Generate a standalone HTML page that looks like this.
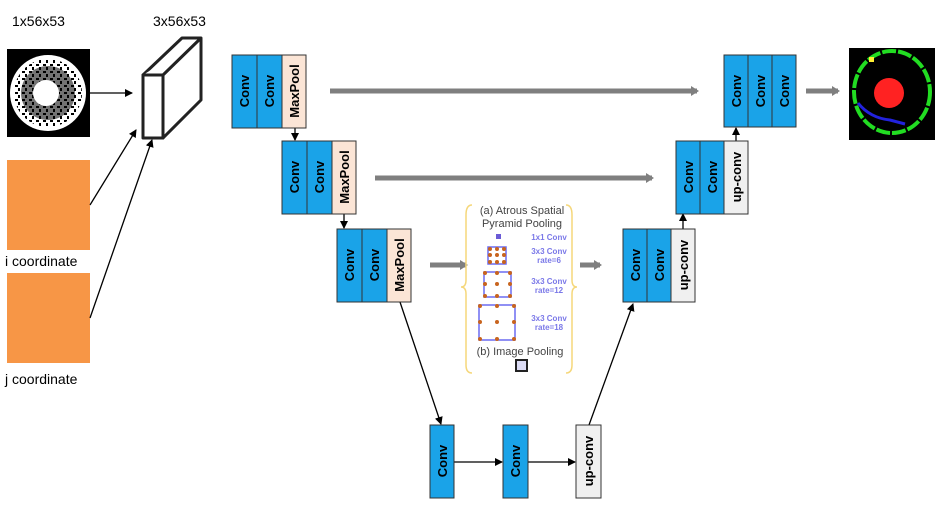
<!DOCTYPE html>
<html><head><style>body{margin:0;background:#fff}svg{display:block}text{font-family:"Liberation Sans",sans-serif}</style></head><body>
<svg width="937" height="512" viewBox="0 0 937 512" xmlns="http://www.w3.org/2000/svg">
<defs>
<marker id="a" markerWidth="8" markerHeight="8" refX="7" refY="4" orient="auto" markerUnits="userSpaceOnUse"><path d="M0,0 L8,4 L0,8z" fill="#000"/></marker>
<marker id="g" markerWidth="8" markerHeight="10" refX="6" refY="5" orient="auto" markerUnits="userSpaceOnUse"><path d="M0,0 L8,5 L0,10z" fill="#7f7f7f"/></marker>
<pattern id="n" width="7" height="7" patternUnits="userSpaceOnUse"><rect width="7" height="7" fill="#fff"/><rect x="1" y="1" width="3" height="2" fill="#000"/><rect x="4" y="4" width="2" height="3" fill="#000"/></pattern>
</defs>
<g font-size="14" fill="#000">
<text x="12" y="26">1x56x53</text>
<text x="153" y="26">3x56x53</text>
<text x="5" y="266">i coordinate</text>
<text x="5" y="384">j coordinate</text>
</g>
<rect x="7" y="49" width="83" height="88" fill="#000"/>
<circle cx="48" cy="93" r="38" fill="#fff"/>
<circle cx="48" cy="93" r="34" fill="url(#n)"/>
<circle cx="48" cy="93" r="27" fill="#000" opacity="0.55"/>
<circle cx="46" cy="93" r="13" fill="#fff"/>
<rect x="7" y="160" width="83" height="90" fill="#f79646"/>
<rect x="7" y="273" width="83" height="90" fill="#f79646"/>
<g fill="#fff" stroke="#222" stroke-width="3" stroke-linejoin="round">
<path d="M143,75 L182,38 L201,38 L201,100 L163,138 Z"/>
<path d="M143,75 L163,75 L201,38"/>
<rect x="143" y="75" width="20" height="63"/>
</g>
<g stroke="#000" stroke-width="1.3" fill="none" marker-end="url(#a)">
<line x1="90" y1="93" x2="132" y2="93"/>
<line x1="90" y1="205" x2="136" y2="130"/>
<line x1="90" y1="318" x2="152" y2="140"/>
<line x1="295" y1="128" x2="295" y2="140"/>
<line x1="344" y1="214" x2="344" y2="228"/>
<line x1="400" y1="302" x2="441" y2="424"/>
<line x1="454" y1="462" x2="502" y2="462"/>
<line x1="528" y1="462" x2="575" y2="462"/>
<line x1="589" y1="425" x2="633" y2="304"/>
<line x1="683" y1="229" x2="683" y2="214"/>
<line x1="736" y1="141" x2="736" y2="128"/>
</g>
<g stroke="#7f7f7f" stroke-width="5" fill="none" marker-end="url(#g)">
<line x1="330" y1="91" x2="697" y2="91"/>
<line x1="375" y1="178" x2="652" y2="178"/>
<line x1="430" y1="265" x2="466" y2="265"/>
<line x1="580" y1="265" x2="600" y2="265"/>
<line x1="806" y1="91" x2="838" y2="91"/>
</g>
<g stroke="#333" stroke-width="1">
<rect x="232" y="55" width="25" height="73" fill="#1aa3e8"/><rect x="257" y="55" width="25" height="73" fill="#1aa3e8"/><rect x="282" y="55" width="24" height="73" fill="#fbe5d6"/>
<rect x="282" y="141" width="25" height="73" fill="#1aa3e8"/><rect x="307" y="141" width="25" height="73" fill="#1aa3e8"/><rect x="332" y="141" width="24" height="73" fill="#fbe5d6"/>
<rect x="337" y="229" width="25" height="73" fill="#1aa3e8"/><rect x="362" y="229" width="25" height="73" fill="#1aa3e8"/><rect x="387" y="229" width="24" height="73" fill="#fbe5d6"/>
<rect x="430" y="425" width="24" height="73" fill="#1aa3e8"/><rect x="503" y="425" width="25" height="73" fill="#1aa3e8"/><rect x="576" y="425" width="25" height="73" fill="#f0f0f0"/>
<rect x="623" y="229" width="24" height="73" fill="#1aa3e8"/><rect x="647" y="229" width="24" height="73" fill="#1aa3e8"/><rect x="671" y="229" width="24" height="73" fill="#f0f0f0"/>
<rect x="676" y="141" width="24" height="73" fill="#1aa3e8"/><rect x="700" y="141" width="24" height="73" fill="#1aa3e8"/><rect x="724" y="141" width="24" height="73" fill="#f0f0f0"/>
<rect x="724" y="55" width="24" height="72" fill="#1aa3e8"/><rect x="748" y="55" width="24" height="72" fill="#1aa3e8"/><rect x="772" y="55" width="24" height="72" fill="#1aa3e8"/>
</g>
<g font-size="13" font-weight="bold" text-anchor="middle" fill="#000">
<text transform="translate(249,91) rotate(-90)">Conv</text><text transform="translate(274,91) rotate(-90)">Conv</text><text transform="translate(299,91) rotate(-90)">MaxPool</text>
<text transform="translate(299,177) rotate(-90)">Conv</text><text transform="translate(324,177) rotate(-90)">Conv</text><text transform="translate(349,177) rotate(-90)">MaxPool</text>
<text transform="translate(354,265) rotate(-90)">Conv</text><text transform="translate(379,265) rotate(-90)">Conv</text><text transform="translate(404,265) rotate(-90)">MaxPool</text>
<text transform="translate(447,461) rotate(-90)">Conv</text><text transform="translate(520,461) rotate(-90)">Conv</text><text transform="translate(593,461) rotate(-90)">up-conv</text>
<text transform="translate(640,265) rotate(-90)">Conv</text><text transform="translate(664,265) rotate(-90)">Conv</text><text transform="translate(688,265) rotate(-90)">up-conv</text>
<text transform="translate(693,177) rotate(-90)">Conv</text><text transform="translate(717,177) rotate(-90)">Conv</text><text transform="translate(741,177) rotate(-90)">up-conv</text>
<text transform="translate(741,91) rotate(-90)">Conv</text><text transform="translate(765,91) rotate(-90)">Conv</text><text transform="translate(789,91) rotate(-90)">Conv</text>
</g>
<g fill="none" stroke="#f5d77a" stroke-width="1.5">
<path d="M472,205 Q466,205 466,215 L466,280 Q466,287 461,287 Q466,287 466,294 L466,365 Q466,373 472,373"/>
<path d="M566,205 Q572,205 572,215 L572,280 Q572,287 577,287 Q572,287 572,294 L572,365 Q572,373 566,373"/>
</g>
<g font-size="11" fill="#444" text-anchor="middle">
<text x="522" y="214">(a) Atrous Spatial</text>
<text x="522" y="227">Pyramid Pooling</text>
<text x="520" y="355">(b) Image Pooling</text>
</g>
<g font-size="8" font-weight="bold" fill="#7a78e8" text-anchor="middle">
<text x="549" y="240">1x1 Conv</text>
<text x="549" y="254">3x3 Conv</text><text x="549" y="263">rate=6</text>
<text x="549" y="284">3x3 Conv</text><text x="549" y="293">rate=12</text>
<text x="549" y="321">3x3 Conv</text><text x="549" y="330">rate=18</text>
</g>
<rect x="496" y="234" width="5" height="5" fill="#6b5bd6"/>
<rect x="488" y="247" width="18" height="17" fill="none" stroke="#6b6bf0" stroke-width="1.5"/>
<rect x="484" y="272" width="27" height="25" fill="none" stroke="#6b6bf0" stroke-width="1.5"/>
<rect x="479" y="305" width="36" height="35" fill="none" stroke="#6b6bf0" stroke-width="1.5"/>
<g fill="#c8641e">
<circle cx="490" cy="249" r="2"/><circle cx="497" cy="249" r="2"/><circle cx="504" cy="249" r="2"/><circle cx="490" cy="255" r="2"/><circle cx="497" cy="255" r="2"/><circle cx="504" cy="255" r="2"/><circle cx="490" cy="262" r="2"/><circle cx="497" cy="262" r="2"/><circle cx="504" cy="262" r="2"/>
<circle cx="485" cy="273" r="2"/><circle cx="497" cy="273" r="2"/><circle cx="510" cy="273" r="2"/><circle cx="485" cy="284" r="2"/><circle cx="497" cy="284" r="2"/><circle cx="510" cy="284" r="2"/><circle cx="485" cy="296" r="2"/><circle cx="497" cy="296" r="2"/><circle cx="510" cy="296" r="2"/>
<circle cx="480" cy="306" r="2"/><circle cx="497" cy="306" r="2"/><circle cx="514" cy="306" r="2"/><circle cx="480" cy="322" r="2"/><circle cx="497" cy="322" r="2"/><circle cx="514" cy="322" r="2"/><circle cx="480" cy="339" r="2"/><circle cx="497" cy="339" r="2"/><circle cx="514" cy="339" r="2"/>
</g>
<rect x="516" y="360" width="11" height="11" fill="#dcdcf5" stroke="#222" stroke-width="2"/>
<rect x="849" y="48" width="86" height="92" fill="#000"/>
<ellipse cx="892" cy="92" rx="38" ry="41" fill="none" stroke="#22dd22" stroke-width="4" stroke-dasharray="14 2"/>
<path d="M858,103 Q870,118 890,120 L905,124" fill="none" stroke="#2222dd" stroke-width="3"/>
<circle cx="889" cy="93" r="15" fill="#ff2222"/>
<rect x="869" y="57" width="5" height="5" fill="#ffee33"/>
</svg>
</body></html>
